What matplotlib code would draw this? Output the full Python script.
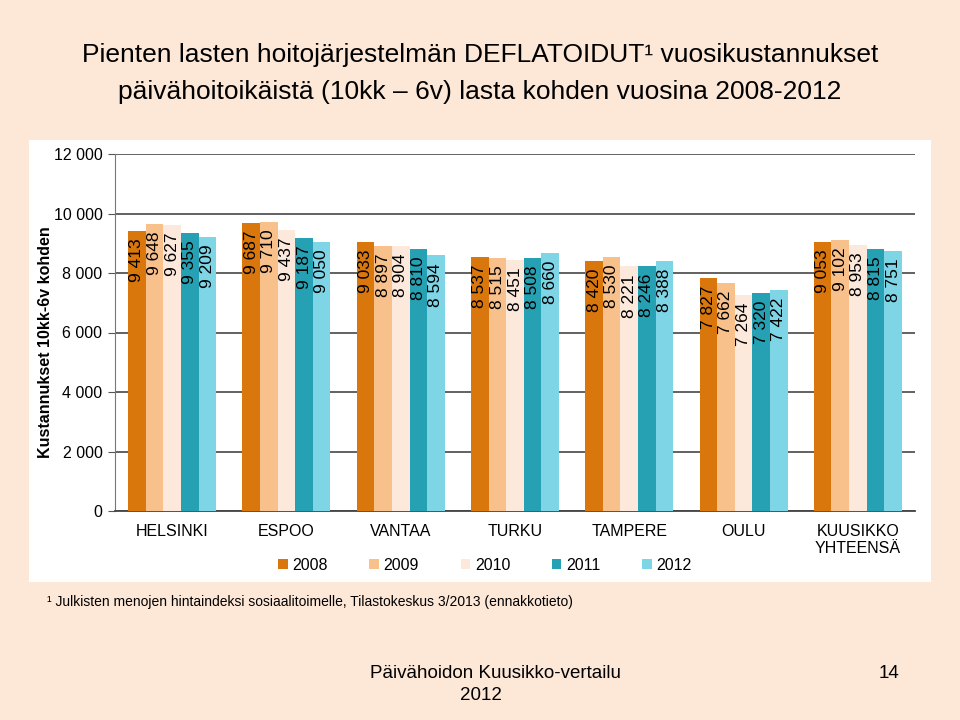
import matplotlib
matplotlib.use("Agg")
import matplotlib.pyplot as plt
from matplotlib.patches import Rectangle
import numpy as np

# Chart data
cities = ["HELSINKI", "ESPOO", "VANTAA", "TURKU", "TAMPERE", "OULU", "KUUSIKKO\nYHTEENSÄ"]
years = ["2008", "2009", "2010", "2011", "2012"]
v2008 = [9413, 9687, 9033, 8537, 8420, 7827, 9053]
v2009 = [9648, 9710, 8897, 8515, 8530, 7662, 9102]
v2010 = [9627, 9437, 8904, 8451, 8221, 7264, 8953]
v2011 = [9355, 9187, 8810, 8508, 8246, 7320, 8815]
v2012 = [9209, 9050, 8594, 8660, 8388, 7422, 8751]
series = [v2008, v2009, v2010, v2011, v2012]
colors = ["#d9760c", "#f8c08a", "#fce9dc", "#26a1b3", "#7dd5e6"]

plt.rcParams["font.family"] = ["Liberation Sans", "DejaVu Sans"]

bg = "#fde8d8"
fig = plt.figure(figsize=(9.6, 7.2), dpi=100, facecolor=bg)

# white panel behind the chart
fig.patches.append(Rectangle((29 / 960, 1 - 582 / 720), 902 / 960, 442 / 720,
                             transform=fig.transFigure, facecolor="white",
                             edgecolor="none", zorder=-5))

ax = fig.add_axes([115 / 960, 1 - 511 / 720, 800 / 960, 357 / 720])
ax.set_facecolor("white")
ax.set_zorder(2)

x = np.arange(len(cities))
w = 0.154
for i, (vals, col) in enumerate(zip(series, colors)):
    pos = x + (i - 2) * w
    bars = ax.bar(pos, vals, width=w, color=col, label=years[i], zorder=3)
    for b, v in zip(bars, vals):
        ax.annotate(f"{v:,}".replace(",", " "), (b.get_x() + b.get_width() / 2, v),
                    xytext=(0, -5.5), textcoords="offset points", rotation=90,
                    ha="center", va="top", fontsize=12.5, color="black", zorder=4)

ax.set_xlim(-0.5, len(cities) - 0.5)
ax.set_ylim(0, 12000)
ax.set_yticks(range(0, 12001, 2000))
ax.set_yticklabels([f"{t:,}".replace(",", " ") for t in range(0, 12001, 2000)], fontsize=11.5)
ax.set_xticks(x)
ax.set_xticklabels(cities, fontsize=11.5)
ax.tick_params(axis="x", length=0, pad=9)
ax.tick_params(axis="y", length=5, color="#555555", pad=4)
ax.yaxis.grid(True, color="#555555", linewidth=1.3, zorder=1)
ax.set_axisbelow(True)
for s in ["top", "right"]:
    ax.spines[s].set_visible(False)
ax.spines["left"].set_color("#777777")
ax.spines["bottom"].set_color("#444444")
ax.spines["bottom"].set_linewidth(1.3)

fig.legend(loc="center", bbox_to_anchor=(0.505, 1 - 565 / 720), ncol=5, frameon=False,
           handlelength=0.6, handleheight=0.6, handletextpad=0.3, columnspacing=2.6,
           fontsize=11.5)

fig.text(0.047, 1 - 342 / 720, "Kustannukset 10kk-6v kohden", rotation=90,
         ha="center", va="center", fontsize=11.5, fontweight="bold")

fig.text(0.5, 1 - 55 / 720, "Pienten lasten hoitojärjestelmän DEFLATOIDUT¹ vuosikustannukset",
         ha="center", va="center", fontsize=19)
fig.text(0.5, 1 - 92 / 720, "päivähoitoikäistä (10kk – 6v) lasta kohden vuosina 2008-2012",
         ha="center", va="center", fontsize=19)

fig.text(47 / 960, 1 - 602 / 720,
         "¹ Julkisten menojen hintaindeksi sosiaalitoimelle, Tilastokeskus 3/2013 (ennakkotieto)",
         ha="left", va="center", fontsize=10)
fig.text(495 / 960, 1 - 673 / 720, "Päivähoidon Kuusikko-vertailu", ha="center", va="center",
         fontsize=13.5)
fig.text(481 / 960, 1 - 695 / 720, "2012", ha="center", va="center", fontsize=13.5)
fig.text(889 / 960, 1 - 673 / 720, "14", ha="center", va="center", fontsize=13.5)

fig.savefig("out.png", dpi=100, facecolor=bg)
